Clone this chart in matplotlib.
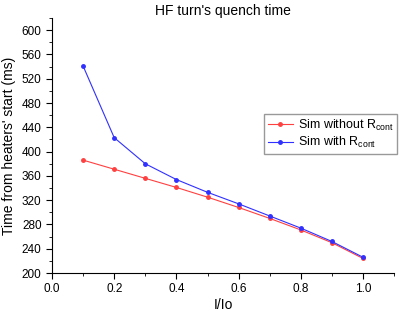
import numpy as np
import matplotlib
matplotlib.use("Agg")
import matplotlib.pyplot as plt
from matplotlib.ticker import MultipleLocator

plt.rcParams['font.family'] = ['Liberation Sans', 'DejaVu Sans']
plt.rcParams['mathtext.fontset'] = 'custom'
plt.rcParams['mathtext.rm'] = 'Liberation Sans'

ratio = [0.1, 0.2, 0.3, 0.4, 0.5, 0.6, 0.7, 0.8, 0.9, 1.0]
t_without = [386, 371, 356, 341, 325, 308, 290, 271, 250, 224]
t_with = [541, 423, 380, 354, 333, 314, 294, 274, 252, 226]

fig = plt.figure(figsize=(4.03, 3.11), dpi=100)
ax = fig.add_axes([0.129, 0.122, 0.849, 0.820])

ax.plot(ratio, t_without, '-o', color='#ff4040', lw=0.8, ms=2.5,
        label=r'Sim without R$_{\mathrm{cont}}$')
ax.plot(ratio, t_with, '-o', color='#3030ff', lw=0.8, ms=2.5,
        label=r'Sim with R$_{\mathrm{cont}}$')

ax.set_xlim(0, 1.1)
ax.set_ylim(200, 620)
ax.xaxis.set_minor_locator(MultipleLocator(0.1))
ax.yaxis.set_minor_locator(MultipleLocator(20))
ax.set_xticks(np.arange(0, 1.01, 0.2))
ax.set_yticks(np.arange(200, 601, 40))
ax.tick_params(which='both', direction='out', labelsize=8.5)
ax.tick_params(which='major', length=4)
ax.tick_params(which='minor', length=2)
ax.spines['top'].set_visible(False)
ax.spines['right'].set_visible(False)

ax.set_title("HF turn's quench time", fontsize=10, pad=1)
ax.set_xlabel('I/Io', fontsize=10, labelpad=2)
ax.set_ylabel("Time from heaters' start (ms)", fontsize=10)

ax.legend(loc='upper left', bbox_to_anchor=(0.62, 0.625), frameon=True,
          fancybox=False, edgecolor='#808080', fontsize=9,
          handlelength=2.0, handletextpad=0.4, borderpad=0.3,
          labelspacing=0.2, borderaxespad=0)

fig.savefig('out.png', dpi=100)
